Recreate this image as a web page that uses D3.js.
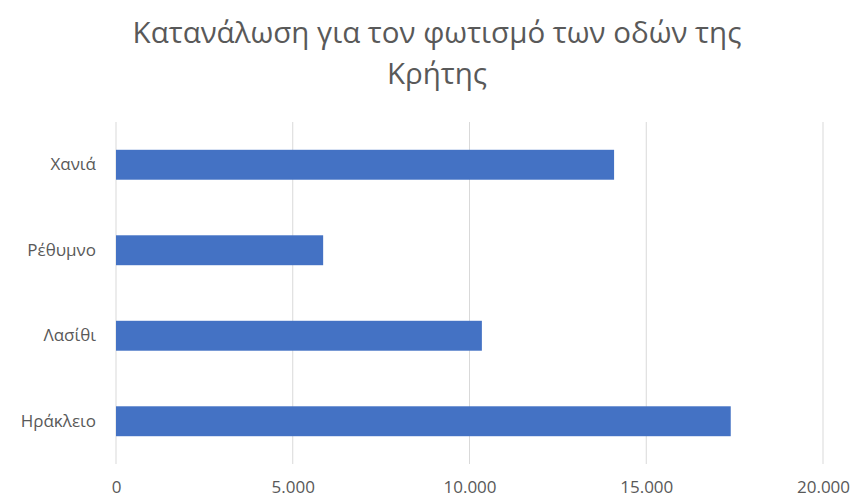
<!DOCTYPE html>
<html>
<head>
<meta charset="utf-8">
<script src="https://cdn.jsdelivr.net/npm/d3@7"></script>
<style>
  body { margin: 0; background: #fff; }
  text { font-family: "Open Sans", "Noto Sans", sans-serif; }
</style>
</head>
<body>
<div id="chart"></div>
<script>
// Data
const titleLines = ["Κατανάλωση για τον φωτισμό των οδών της", "Κρήτης"];
const regions = ["Χανιά", "Ρέθυμνο", "Λασίθι", "Ηράκλειο"];
const consumption = [14090, 5860, 10350, 17390];
const xTicks = [0, 5000, 10000, 15000, 20000];

const W = 856, H = 499;
const margin = {top: 122, right: 33, bottom: 35, left: 116};
const width = W - margin.left - margin.right,
      height = H - margin.top - margin.bottom;

const svg = d3.select("#chart")
  .append("svg")
    .attr("width", W)
    .attr("height", H);

// Title
svg.append("g").selectAll("text")
  .data(titleLines)
  .join("text")
    .attr("x", 437)
    .attr("y", (d, i) => 43 + i * 41)
    .attr("text-anchor", "middle")
    .style("font-size", "29.5px")
    .style("fill", "#595959")
    .text(d => d);

const g = svg.append("g")
  .attr("transform", "translate(" + margin.left + "," + margin.top + ")");

// Scales
const x = d3.scaleLinear()
  .domain([0, 20000])
  .range([0, width]);

const y = d3.scaleBand()
  .domain(regions)
  .range([0, height])
  .paddingInner(0.65)
  .paddingOuter(0.325);

// thousands separator is a dot
const locale = d3.formatLocale({decimal: ",", thousands: ".", grouping: [3], currency: ["", ""]});
const fmt = locale.format(",d");

// Gridlines
g.append("g").selectAll("line")
  .data(xTicks)
  .join("line")
    .attr("x1", d => x(d)).attr("x2", d => x(d))
    .attr("y1", 0).attr("y2", height)
    .attr("stroke", "#d9d9d9")
    .attr("stroke-width", 1);

// Bars
g.append("g").selectAll("rect")
  .data(regions)
  .join("rect")
    .attr("x", x(0))
    .attr("y", d => y(d))
    .attr("width", (d, i) => x(consumption[i]) - x(0))
    .attr("height", y.bandwidth())
    .attr("fill", "#4472c4");

// X axis
const xAxis = g.append("g")
  .attr("transform", "translate(0," + height + ")")
  .call(d3.axisBottom(x).tickValues(xTicks).tickFormat(fmt).tickSize(0).tickPadding(17));
xAxis.select(".domain").remove();
xAxis.selectAll("text")
  .style("font-size", "17px")
  .style("fill", "#595959");

// Y axis
const yAxis = g.append("g")
  .call(d3.axisLeft(y).tickSize(0).tickPadding(20));
yAxis.select(".domain").remove();
yAxis.selectAll("text")
  .style("font-size", "17px")
  .style("fill", "#595959");
</script>
</body>
</html>
